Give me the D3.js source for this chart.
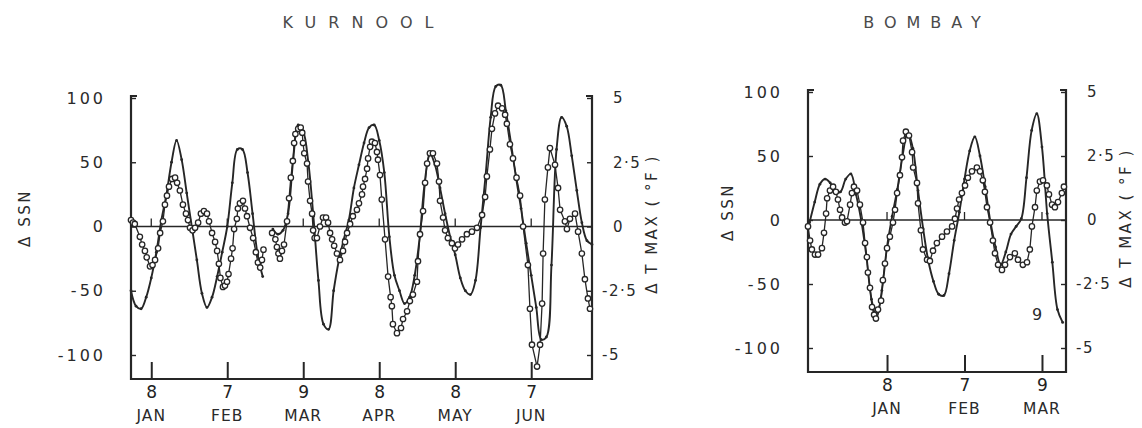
<!DOCTYPE html>
<html lang="en">
<head>
<meta charset="utf-8">
<title>KURNOOL / BOMBAY</title>
<script src="https://cdn.jsdelivr.net/npm/d3@7"></script>
<style>
  body { margin: 0; background: #fff; }
  svg text { font-family: "DejaVu Sans", sans-serif; fill: #2a2a2a; }
</style>
</head>
<body>
<svg id="canvas"></svg>
<script>

const width = 1142;
const height = 428;

// ---- KURNOOL ----
const kurTickDays = [8, 38, 68, 98, 128, 158];
const kurTickNums = ["8", "7", "9", "8", "8", "7"];
const kurTickMonths = ["JAN", "FEB", "MAR", "APR", "MAY", "JUN"];

// delta SSN, every 2 days from day 0 (null = break in the record)
const kurSsnDays = d3.range(0, 184, 2);
const kurSsn = [
  -50, -62, -64, -55, -40, -20, 5, 25, 50, 67,
  52, 26, 0, -26, -52, -63, -55, -39, -20, 0,
  34, 60, 60, 42, 10, -22, -39, null, -2, -6,
  -3, 10, 51, 79, 74, 50, 8, -42, -76, -80,
  -50, -27, -10, 5, 30, 48, 65, 77, 79, 67,
  42, -8, -38, -50, -60, -55, -38, -8, 35, 57,
  48, 30, 10, -8, -22, -40, -50, -53, -42, -1,
  40, 85, 109, 110, 90, 65, 38, 14, -13, -38,
  -63, -88, -86, -30, 60, 85, 78, 55, 28, 3,
  -11, -14
];

// delta T max (deg F) : [day, value]
const kurT = [
  [0, 0.25], [0.8, 0.15], [1.5, 0.1], [3.5, -0.4], [4.4, -0.7], [5.5, -0.95], [6.2, -1.2],
  [7.5, -1.55], [8.5, -1.5], [9.5, -1.3], [10.7, -0.85], [11.5, -0.25], [12.6, 0.2],
  [13.4, 0.85], [14.2, 1.2], [15, 1.55], [16.2, 1.85], [17.4, 1.9], [18.2, 1.7], [19.3, 1.4],
  [20.5, 0.85], [21.7, 0.5], [22.5, 0.25], [23.3, -0.05], [24.3, -0.15], [25.3, -0.05],
  [26.5, 0.15], [27.6, 0.5], [28.8, 0.6], [30, 0.5], [30.8, 0.2], [32, -0.25], [33.2, -0.6],
  [34, -0.95], [34.7, -1.45], [35.3, -2.0], [36.3, -2.35], [37.1, -2.3], [37.9, -2.15],
  [38.5, -1.85], [39.5, -1.25], [40.1, -0.85], [40.7, -0.1], [41.8, 0.3], [42.2, 0.7],
  [43, 0.9], [44.2, 1.0], [45, 0.7], [45.8, 0.4], [47, -0.05], [48.2, -0.45], [49.3, -1.0],
  [50.1, -1.4], [51, -1.6], [51.7, -1.3], [52.3, -0.9], [54, null],
  [55.7, -0.25], [57, -0.5], [57.6, -0.8], [58.2, -1.05], [58.8, -1.25], [59.6, -0.95],
  [60.4, -0.7], [61.6, 0.2], [62.4, 1.1], [63.1, 1.9], [63.9, 2.55], [64.4, 3.25],
  [64.9, 3.6], [66, 3.8], [67, 3.85], [67.6, 3.65], [67.9, 3.25], [68.4, 2.85], [69.5, 2.45],
  [69.9, 1.75], [70.7, 1.0], [71.5, 0.5], [71.9, -0.15], [72.5, -0.45], [73.4, -0.45],
  [74.6, 0], [75.8, 0.35], [77, 0.35], [77.8, 0.15], [78.6, -0.25], [79.4, -0.5],
  [80.2, -0.75], [81.3, -1.05], [82.5, -1.3], [83.7, -0.95], [84.5, -0.6], [85.3, -0.25],
  [86.5, 0.1], [87.6, 0.4], [89.2, 0.65], [90, 0.9], [91.2, 1.25], [91.6, 1.55],
  [92.4, 1.85], [93.2, 2.25], [93.6, 2.65], [94.4, 3.1], [95.1, 3.3], [96.3, 3.25],
  [97.1, 2.9], [97.5, 2.6], [98.3, 2.0], [99, 1.05], [100.3, -0.5], [101.5, -1.95],
  [102.5, -2.75], [103, -3.1], [103.4, -3.8], [105, -4.15], [106.6, -3.95], [107.4, -3.6],
  [109, -3.3], [110.1, -2.9], [111.3, -2.65], [112.9, -2.15], [113.3, -1.35], [114.1, -0.3],
  [115.3, 0.6], [116.1, 1.7], [116.9, 2.45], [118, 2.85], [119.2, 2.85], [120.8, 2.45],
  [121.6, 1.75], [122, 1.0], [123.2, 0.35], [124, -0.15], [125.1, -0.45], [126.7, -0.65],
  [127.9, -0.85], [129.1, -0.7], [130.7, -0.5], [132.6, -0.3], [134.6, -0.2], [136.6, -0.05],
  [138.6, 0.45], [139.8, 1.15], [140.5, 1.95], [141.7, 3.0], [142.5, 3.8], [143.7, 4.4],
  [144.9, 4.7], [146.5, 4.6], [147.7, 4.35], [148.4, 4.0], [149.6, 3.2], [150.8, 2.65],
  [152.2, 1.9], [153.6, 1.2], [154.8, 0], [156.7, -1.5], [157.5, -3.2], [158.3, -4.6],
  [160.3, -5.45], [161.5, -4.6], [162.3, -3.0], [162.7, -1.05], [163.4, 1.05], [164.6, 2.3],
  [165.4, 3.05], [167.4, 2.4], [168.6, 1.5], [169.4, 0.65], [171.3, 0.2], [172.1, -0.1],
  [173.3, 0.3], [175.3, 0.5], [176.5, -0.2], [178, -1.05], [179.2, -2.05], [180.4, -2.8],
  [181.2, -3.2]
];

// ---- BOMBAY ----
const bomTickDays = [8, 38, 68];
const bomTickNums = ["8", "7", "9"];
const bomTickMonths = ["JAN", "FEB", "MAR"];

const bomSsnDays = d3.range(-22, 78, 2);
const bomSsn = [
  -2, 14, 28, 32, 29, 22, 22, 32, 36, 20,
  0, -28, -62, -76, -55, -21, 3, 24, 50, 69,
  56, 23, -7, -32, -48, -58, -59, -42, -16, 6,
  32, 54, 65, 50, 26, -1, -21, -35, -25, -11,
  -5, 1, 33, 70, 83, 57, 5, -33, -70, -80
];

const bomT = [
  [-22.6, -0.25], [-21.8, -0.8], [-21.1, -1.15], [-19.9, -1.35], [-18.7, -1.35],
  [-17.2, -1.1], [-16.4, -0.5], [-15.6, 0.25], [-15.2, 0.85], [-14.1, 1.15], [-12.9, 1.3],
  [-11.8, 1.1], [-11, 0.8], [-10.2, 0.4], [-9.4, 0.1], [-8.3, -0.1], [-7.5, -0.05],
  [-6.3, 0.6], [-5.6, 1.05], [-4.8, 1.3], [-3.6, 1.15], [-2.5, 0.6], [-1.3, -0.1],
  [-0.5, -0.9], [0.2, -1.45], [0.6, -2.05], [1.4, -2.65], [2.2, -3.4], [3, -3.7],
  [3.7, -3.85], [4.5, -3.5], [5.7, -3.15], [6.4, -2.35], [7.2, -1.7], [8, -1.1],
  [9.1, -0.65], [10.3, -0.1], [11.1, 0.4], [11.9, 1.05], [13, 1.75], [13.8, 2.45],
  [14.2, 3.1], [15.3, 3.45], [16.5, 3.3], [17.7, 2.65], [18.1, 2.05], [19.6, 1.45],
  [20, 0.65], [21.1, -0.4], [21.9, -1.15], [23.5, -1.55], [24.6, -1.6], [25.8, -1.2],
  [27.3, -0.9], [29.3, -0.65], [31.2, -0.45], [33.2, -0.25], [34.3, 0.05], [35.1, 0.45],
  [35.9, 0.8], [37, 1.05], [38.2, 1.35], [39.3, 1.65], [40.9, 1.9], [42.8, 2.05],
  [44, 1.9], [45.1, 1.55], [45.9, 1.1], [46.7, 0.5], [47.9, -0.1], [49, -0.8], [49.8, -1.3],
  [51, -1.75], [52.5, -1.95], [53.7, -1.75], [55.6, -1.45], [57.5, -1.3], [58.7, -1.55],
  [60.6, -1.75], [62.2, -1.65], [63.3, -1.15], [64.1, -0.25], [65.3, 0.5], [66, 1.15],
  [67.2, 1.5], [68.4, 1.55], [69.9, 1.35], [70.7, 1.0], [71.9, 0.6], [73, 0.5],
  [74.2, 0.7], [75.7, 1.05], [76.5, 1.3]
];

const ink = "#262626";

const svg = d3.select("#canvas")
  .attr("width", width)
  .attr("height", height)
  .attr("viewBox", [0, 0, width, height]);

function fmtRight(d) {
  if (d === 0) return "0";
  return (d < 0 ? "-" : "") + String(Math.abs(d)).replace(".", "·");
}

function panel(p) {
  const g = svg.append("g");

  const x = d3.scaleLinear().domain(p.xDomain).range([p.left, p.right]);
  const yL = d3.scaleLinear().domain([-100, 100]).range([p.y100neg, p.y100]);
  const yR = d3.scaleLinear().domain([-5, 5]).range([p.y100neg, p.y100]);

  // title
  g.append("text")
    .attr("x", p.titleX + p.titleSpacing / 2)
    .attr("y", 28)
    .attr("text-anchor", "middle")
    .attr("font-size", 16)
    .attr("letter-spacing", p.titleSpacing)
    .style("fill", "#4a4a4a")
    .text(p.title);

  // frame: left axis, bottom axis, right axis with small top hooks
  g.append("path")
    .attr("d", `M${p.left + 6},${p.top}H${p.left}V${p.bottom}H${p.right}V${p.top}H${p.right - 6}`)
    .attr("fill", "none")
    .attr("stroke", ink)
    .attr("stroke-width", 2.2);

  // zero line
  g.append("line")
    .attr("x1", p.left).attr("x2", p.right)
    .attr("y1", yL(0)).attr("y2", yL(0))
    .attr("stroke", ink).attr("stroke-width", 1.5);

  // left axis ticks & labels
  g.append("g")
    .attr("transform", `translate(${p.left},0)`)
    .call(d3.axisLeft(yL).tickValues([100, 50, 0, -50, -100]).tickSize(-5).tickPadding(25)
      .tickFormat(d => String(d)))
    .call(a => a.select(".domain").remove())
    .call(a => a.selectAll(".tick line").attr("stroke", ink).attr("stroke-width", 1.4))
    .call(a => a.selectAll(".tick text").attr("font-size", 16).attr("letter-spacing", 3)
      .attr("font-family", null).style("fill", "#2a2a2a"));

  // right axis ticks & labels
  g.append("g")
    .attr("transform", `translate(${p.right},0)`)
    .call(d3.axisRight(yR).tickValues([5, 2.5, 0, -2.5, -5]).tickSize(-5).tickPadding(21)
      .tickFormat(fmtRight))
    .call(a => a.select(".domain").remove())
    .call(a => a.selectAll(".tick line").attr("stroke", ink).attr("stroke-width", 1.4))
    .call(a => a.selectAll(".tick text").attr("font-size", 15).attr("letter-spacing", 1.5)
      .attr("font-family", null).style("fill", "#2a2a2a")
      .attr("x", d => d < 0 ? 10 : 21));

  // bottom ticks and day numbers
  g.append("g")
    .attr("transform", `translate(0,${p.bottom})`)
    .call(d3.axisBottom(x).tickValues(p.tickDays).tickSize(-17).tickPadding(7)
      .tickFormat((d, i) => p.tickNums[i]))
    .call(a => a.select(".domain").remove())
    .call(a => a.selectAll(".tick line").attr("stroke", ink).attr("stroke-width", 2))
    .call(a => a.selectAll(".tick text").attr("font-size", 17)
      .attr("font-family", null).style("fill", "#222"));

  // month names
  g.append("g").selectAll("text")
    .data(p.tickMonths)
    .join("text")
    .attr("x", (d, i) => x(p.tickDays[i]))
    .attr("y", p.bottom + 42)
    .attr("text-anchor", "middle")
    .attr("font-size", 15.5)
    .attr("letter-spacing", 1)
    .text(d => d);

  // short ticks on the zero line
  g.append("g").selectAll("line")
    .data(p.tickDays)
    .join("line")
    .attr("x1", d => x(d)).attr("x2", d => x(d))
    .attr("y1", yL(0)).attr("y2", yL(0) - 8)
    .attr("stroke", ink).attr("stroke-width", 1.3);

  // axis titles
  g.append("text")
    .attr("transform", `translate(${p.ssnLabelX},${p.labelY}) rotate(-90)`)
    .attr("text-anchor", "middle")
    .attr("font-size", 15)
    .attr("letter-spacing", 2.5)
    .text("Δ SSN");

  g.append("text")
    .attr("transform", `translate(${p.tLabelX},${p.labelY + 6}) rotate(-90)`)
    .attr("text-anchor", "middle")
    .attr("font-size", 15)
    .attr("letter-spacing", 2.5)
    .text("Δ T MAX ( °F )");

  // delta SSN : smooth curve with small dots
  const ssnPts = d3.zip(p.ssnDays, p.ssn);
  g.append("path")
    .datum(ssnPts)
    .attr("fill", "none")
    .attr("stroke", ink)
    .attr("stroke-width", 1.9)
    .attr("d", d3.line()
      .defined(d => d[1] != null)
      .x(d => x(d[0]))
      .y(d => yL(d[1]))
      .curve(d3.curveCatmullRom.alpha(0.5)));

  g.append("g").selectAll("circle")
    .data(ssnPts.filter(d => d[1] != null))
    .join("circle")
    .attr("cx", d => x(d[0]))
    .attr("cy", d => yL(d[1]))
    .attr("r", 1.4)
    .attr("fill", ink);

  // delta T max : open circles joined by thin line
  g.append("path")
    .datum(p.t)
    .attr("fill", "none")
    .attr("stroke", ink)
    .attr("stroke-width", 1.3)
    .attr("d", d3.line()
      .defined(d => d[1] != null)
      .x(d => x(d[0]))
      .y(d => yR(d[1])));

  g.append("g").selectAll("circle")
    .data(p.t.filter(d => d[1] != null))
    .join("circle")
    .attr("cx", d => x(d[0]))
    .attr("cy", d => yR(d[1]))
    .attr("r", 2.7)
    .attr("fill", "#fff")
    .attr("stroke", ink)
    .attr("stroke-width", 1.3);

  return { g, x, yL, yR };
}

panel({
  title: "KURNOOL", titleX: 358, titleSpacing: 12,
  xDomain: [0, 182], left: 131, right: 592, top: 96, bottom: 379,
  y100: 98, y100neg: 355,
  tickDays: kurTickDays, tickNums: kurTickNums, tickMonths: kurTickMonths,
  ssnDays: kurSsnDays, ssn: kurSsn, t: kurT,
  ssnLabelX: 30, tLabelX: 657, labelY: 218
});

const bom = panel({
  title: "BOMBAY", titleX: 922, titleSpacing: 10,
  xDomain: [-22.6, 77.3], left: 808, right: 1066, top: 90, bottom: 372,
  y100: 92, y100neg: 348,
  tickDays: bomTickDays, tickNums: bomTickNums, tickMonths: bomTickMonths,
  ssnDays: bomSsnDays, ssn: bomSsn, t: bomT,
  ssnLabelX: 733, tLabelX: 1131, labelY: 212
});

// stray figure mark inside the Bombay panel
bom.g.append("text")
  .attr("x", 1037)
  .attr("y", 320)
  .attr("text-anchor", "middle")
  .attr("font-size", 16)
  .text("9");

</script>
</body>
</html>
